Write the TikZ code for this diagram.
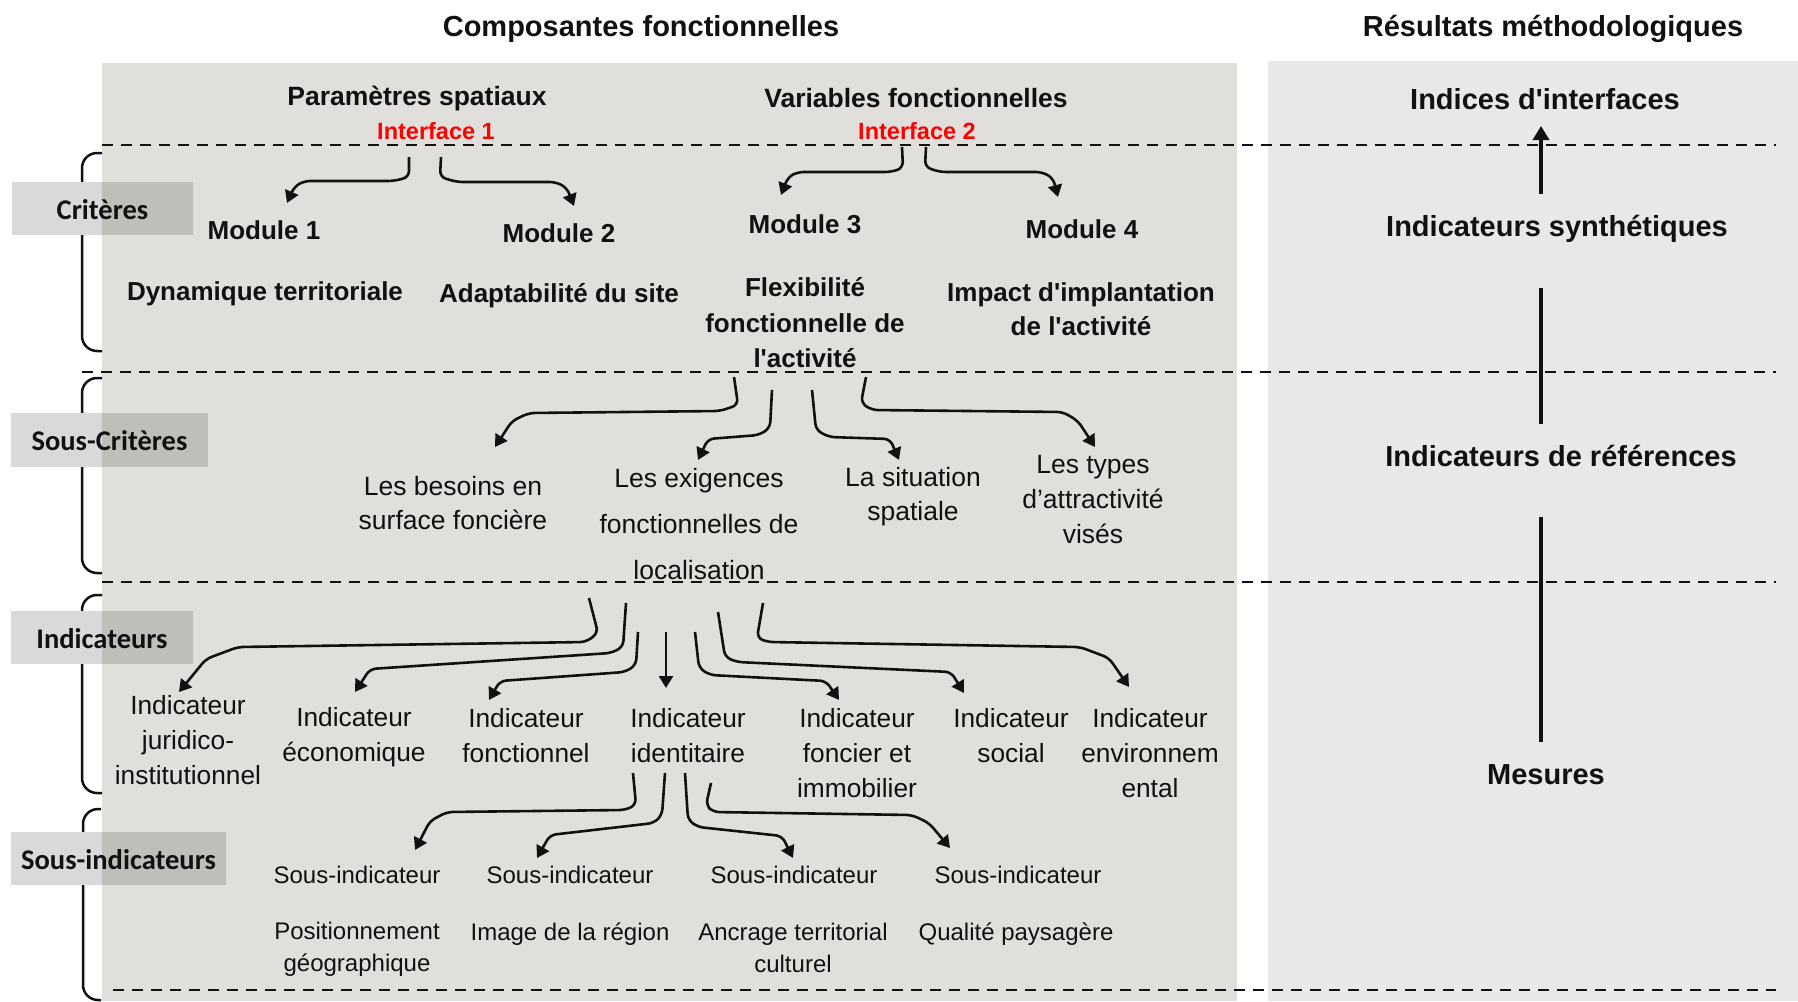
\documentclass[tikz,border=0pt]{standalone}
\usepackage{fontspec}
\setmainfont{Liberation Sans}
\newfontfamily\calib{Carlito}
\usetikzlibrary{arrows.meta}
\definecolor{panelL}{HTML}{E0DFDB}
\definecolor{panelR}{HTML}{E8E8E8}
\definecolor{lblA}{HTML}{D9D9D9}
\definecolor{lblB}{HTML}{BFBEB9}
\definecolor{ired}{HTML}{FF0000}
\definecolor{ink}{HTML}{111111}
\newcommand{\apos}{\textquotesingle}
\begin{document}
\begin{tikzpicture}[x=1pt,y=-1pt,
  every node/.style={inner sep=0pt, text=ink},
  conn/.style={draw=ink, line width=2.6pt, rounded corners=6pt, -{Triangle[length=12pt,width=14pt]}},
  sepline/.style={draw=ink, line width=2.5pt, dash pattern=on 11pt off 8pt},
  brk/.style={draw=ink, line width=2.5pt, rounded corners=15pt},
  vline/.style={draw=ink, line width=3.5pt},
  titletxt/.style={font=\bfseries\fontsize{29}{35}\selectfont},
  hdrtxt/.style={font=\bfseries\fontsize{26.5}{32}\selectfont},
  ifctxt/.style={font=\bfseries\fontsize{23.5}{28}\selectfont, text=ired},
  modtxt/.style={font=\bfseries\fontsize{26}{35.5}\selectfont, align=center},
  sctxt/.style={font=\fontsize{26.5}{34}\selectfont, align=center},
  indtxt/.style={font=\fontsize{26.3}{35}\selectfont, align=center},
  subtxt/.style={font=\fontsize{24}{32}\selectfont, align=center},
  lbltxt/.style={font=\calib\bfseries\fontsize{28.5}{34}\selectfont},
  restxt/.style={font=\bfseries\fontsize{29}{35}\selectfont}
]
\useasboundingbox (0,0) rectangle (1798,1001);
\fill[white] (0,0) rectangle (1798,1001);
% panels
\fill[panelL] (102,63) rectangle (1237,1001);
\fill[panelR] (1268,61) rectangle (1798,1001);
% brackets
\draw[brk] (102,153) -- (82,153) -- (82,351) -- (102,351);
\draw[brk] (102,378) -- (82,378) -- (82,573) -- (102,573);
\draw[brk] (102,595) -- (82,595) -- (82,793) -- (102,793);
\draw[brk] (101,809) -- (83,809) -- (83,1000) -- (101,1000);
% label boxes
\fill[lblA] (12,182) rectangle (102,235);
\fill[lblB] (102,182) rectangle (193,235);
\fill[lblA] (11,413) rectangle (102,467);
\fill[lblB] (102,413) rectangle (208,467);
\fill[lblA] (11,611) rectangle (102,664);
\fill[lblB] (102,611) rectangle (193,664);
\fill[lblA] (11,832) rectangle (102,885);
\fill[lblB] (102,832) rectangle (226,885);
\node[lbltxt] (lcrit) at (102.5,210) {Critères};
\node[lbltxt] (lscrit) at (109.5,441) {Sous-Critères};
\node[lbltxt] (lind) at (102,639) {Indicateurs};
\node[lbltxt] (lsind) at (118.5,860) {Sous-indicateurs};
% dashed separators
\draw[sepline] (102,145) -- (1776,145);
\draw[sepline] (82,372) -- (1776,372);
\draw[sepline] (102,582) -- (1776,582);
\draw[sepline] (113,990) -- (1776,990);
% titles
\node[titletxt] (t1) at (641,29) {Composantes fonctionnelles};
\node[titletxt] (t2) at (1553,29) {Résultats méthodologiques};
% headers
\node[hdrtxt] (param) at (417,99) {Paramètres spatiaux};
\node[hdrtxt] (varf) at (916,98) {Variables fonctionnelles};
\node[ifctxt] (int1) at (436,131) {Interface 1};
\node[ifctxt] (int2) at (917,131) {Interface 2};
% modules
\node[modtxt] (mod1) at (264,230) {Module 1};
\node[modtxt] (mod2) at (559,233) {Module 2};
\node[modtxt] (mod3) at (805,224) {Module 3};
\node[modtxt] (mod4) at (1082,229) {Module 4};
\node[modtxt] (cr1) at (265,294) {Dynamique territoriale};
\node[modtxt] (cr2) at (559,296) {Adaptabilité du site};
\node[modtxt] (cr3) at (805,323) {Flexibilité\\fonctionnelle de\\l\apos activité};
\node[modtxt, font=\bfseries\fontsize{26}{34}\selectfont] (cr4) at (1081,309) {Impact d\apos implantation\\de l\apos activité};
% right column
\node[restxt] (r1) at (1545,99) {Indices d\apos interfaces};
\node[restxt] (r2) at (1557,229) {Indicateurs synthétiques};
\node[restxt] (r3) at (1561,456) {Indicateurs de références};
\node[restxt] (r4) at (1546,775) {Mesures};
\coordinate (r2a) at (1541,194);
\coordinate (r1a) at (1541,126);
\coordinate (r2b) at (1541,288);
\coordinate (r3a) at (1541,424);
\coordinate (r3b) at (1541,517);
\coordinate (r4a) at (1541,742);
\draw[vline, -{Triangle[length=14pt,width=16pt]}] (r2a) -- (r1a);
\draw[vline] (r2b) -- (r3a);
\draw[vline] (r3b) -- (r4a);
% sous-criteres
\node[sctxt] (sc1) at (453,503) {Les besoins en\\surface foncière};
\node[sctxt, font=\fontsize{26.5}{46}\selectfont] (sc2) at (699,524) {Les exigences\\fonctionnelles de\\localisation};
\node[sctxt] (sc3) at (913,497) {La situation\\spatiale};
\node[sctxt, font=\fontsize{26.5}{35}\selectfont] (sc4) at (1093,500) {Les types\\d’attractivité\\visés};
% indicateurs
\node[indtxt] (in1) at (188,740) {Indicateur\\juridico-\\institutionnel};
\node[indtxt] (in2) at (354,737) {Indicateur\\économique};
\node[indtxt] (in3) at (526,736) {Indicateur\\fonctionnel};
\node[indtxt] (in4) at (688,736) {Indicateur\\identitaire};
\node[indtxt] (in5) at (857,753) {Indicateur\\foncier et\\immobilier};
\node[indtxt] (in6) at (1011,736) {Indicateur\\social};
\node[indtxt] (in7) at (1150,753) {Indicateur\\environnem\\ental};
% sous-indicateurs
\node[subtxt] (si1) at (357,875) {Sous-indicateur};
\node[subtxt] (si2) at (570,875) {Sous-indicateur};
\node[subtxt] (si3) at (794,875) {Sous-indicateur};
\node[subtxt] (si4) at (1018,875) {Sous-indicateur};
\node[subtxt] (sd1) at (357,949) {Positionnement\\géographique};
\node[subtxt] (sd2) at (570,934) {Image de la région};
\node[subtxt] (sd3) at (793,948) {Ancrage territorial\\culturel};
\node[subtxt] (sd4) at (1016,934) {Qualité paysagère};
% connector end points
\coordinate (m1s) at (409,157); \coordinate (m1t) at (287,203);
\coordinate (m2s) at (441,157); \coordinate (m2t) at (574,206);
\coordinate (m3s) at (902,147); \coordinate (m3t) at (781,195);
\coordinate (m4s) at (926,147); \coordinate (m4t) at (1058,197);
\coordinate (a1s) at (734,377); \coordinate (a1t) at (495,447);
\coordinate (a2s) at (772,390); \coordinate (a2t) at (698,460);
\coordinate (a3s) at (812,390); \coordinate (a3t) at (899,460);
\coordinate (a4s) at (866,377); \coordinate (a4t) at (1095,447);
\coordinate (i1s) at (589,598); \coordinate (i1t) at (179,692);
\coordinate (i2s) at (626,603); \coordinate (i2t) at (355,692);
\coordinate (i3s) at (638,632); \coordinate (i3t) at (489,700);
\coordinate (i4s) at (666,632); \coordinate (i4t) at (666,688);
\coordinate (i5s) at (695,632); \coordinate (i5t) at (839,700);
\coordinate (i6s) at (718,612); \coordinate (i6t) at (964,693);
\coordinate (i7s) at (763,603); \coordinate (i7t) at (1129,687);
\coordinate (s1s) at (633,773); \coordinate (s1t) at (415,850);
\coordinate (s2s) at (665,773); \coordinate (s2t) at (537,858);
\coordinate (s3s) at (685,773); \coordinate (s3t) at (793,858);
\coordinate (s4s) at (711,783); \coordinate (s4t) at (950,848);
% module connectors
\draw[conn] (m1s) -- (409,177) -- (394,181) -- (304,181) -- (294,187) -- (m1t);
\draw[conn] (m2s) -- (440,177) -- (457,182) -- (556,182) -- (567,188) -- (m2t);
\draw[conn] (m3s) -- (903,168) -- (891,172) -- (798,172) -- (788,177) -- (m3t);
\draw[conn] (m4s) -- (925,167) -- (940,172) -- (1042,172) -- (1053,178) -- (m4t);
% sous-critere connectors
\draw[conn] (a1s) -- (738,405) -- (720,411) -- (529,413) -- (512,421) -- (a1t);
\draw[conn] (a2s) -- (770,428) -- (759,435) -- (708,439) -- (a2t);
\draw[conn] (a3s) -- (816,430) -- (829,437) -- (890,439) -- (a3t);
\draw[conn] (a4s) -- (861,403) -- (872,410) -- (1063,412) -- (1078,421) -- (a4t);
% indicateur connectors
\draw[conn] (i1s) -- (598,633) -- (586,642) -- (238,647) -- (206,659) -- (i1t);
\draw[conn] (i2s) -- (623,647) -- (611,653) -- (370,669) -- (i2t);
\draw[conn] (i3s) -- (636,665) -- (625,672) -- (500,681) -- (i3t);
\draw[conn] (i4s) -- (i4t);
\draw[conn] (i5s) -- (699,668) -- (710,675) -- (826,681) -- (i5t);
\draw[conn] (i6s) -- (725,657) -- (737,662) -- (951,672) -- (i6t);
\draw[conn] (i7s) -- (757,638) -- (768,642) -- (1080,647) -- (1109,658) -- (i7t);
% sous-indicateur connectors
\draw[conn] (s1s) -- (636,805) -- (625,810) -- (447,812) -- (430,821) -- (s1t);
\draw[conn] (s2s) -- (662,815) -- (654,823) -- (550,835) -- (s2t);
\draw[conn] (s3s) -- (688,820) -- (698,827) -- (782,836) -- (s3t);
\draw[conn] (s4s) -- (706,805) -- (713,812) -- (912,815) -- (929,823) -- (s4t);
\end{tikzpicture}
\end{document}
